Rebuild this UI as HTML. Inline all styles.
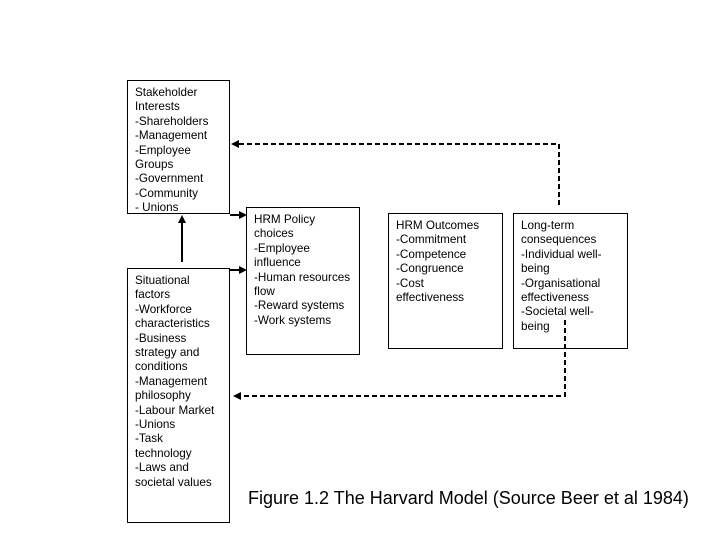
<!DOCTYPE html>
<html><head><style>
body{margin:0;width:720px;height:540px;background:#fff;position:relative;overflow:hidden;font-family:"Liberation Sans",sans-serif;}
.b{position:absolute;border:1px solid #000;box-sizing:border-box;font-size:11.7px;line-height:14.4px;padding:5px 0 0 7px;color:#000;}
svg{position:absolute;left:0;top:0}
</style></head><body>
<div class="b" style="left:127px;top:80px;width:103px;height:134px">Stakeholder<br>Interests<br>-Shareholders<br>-Management<br>-Employee<br>Groups<br>-Government<br>-Community<br>- Unions</div>
<div class="b" style="left:127px;top:268px;width:103px;height:255px">Situational<br>factors<br>-Workforce<br>characteristics<br>-Business<br>strategy and<br>conditions<br>-Management<br>philosophy<br>-Labour Market<br>-Unions<br>-Task<br>technology<br>-Laws and<br>societal values</div>
<div class="b" style="left:246px;top:207px;width:114px;height:148px">HRM Policy<br>choices<br>-Employee<br>influence<br>-Human resources<br>flow<br>-Reward systems<br>-Work systems</div>
<div class="b" style="left:388px;top:213px;width:115px;height:136px">HRM Outcomes<br>-Commitment<br>-Competence<br>-Congruence<br>-Cost<br>effectiveness</div>
<div class="b" style="left:513px;top:213px;width:115px;height:136px">Long-term<br>consequences<br>-Individual well-<br>being<br>-Organisational<br>effectiveness<br>-Societal well-<br>being</div>
<svg width="720" height="540">
<g stroke="#000" stroke-width="2" fill="none">
<path d="M559 205V144H238" stroke-dasharray="5,3"/>
<path d="M565 320V396H240" stroke-dasharray="5,3"/>
<path d="M230 215H240M230 270H240M182 262V222"/>
</g>
<g fill="#000">
<polygon points="231,144 239,140 239,148"/>
<polygon points="233,396 241,392 241,400"/>
<polygon points="247,215 239,211 239,219"/>
<polygon points="247,270 239,266 239,274"/>
<polygon points="182,215 178,223 186,223"/>
</g>
</svg>
<div style="position:absolute;left:248px;top:488px;font-size:18px;white-space:nowrap">Figure 1.2 The Harvard Model (Source Beer et al 1984)</div>
</body></html>
